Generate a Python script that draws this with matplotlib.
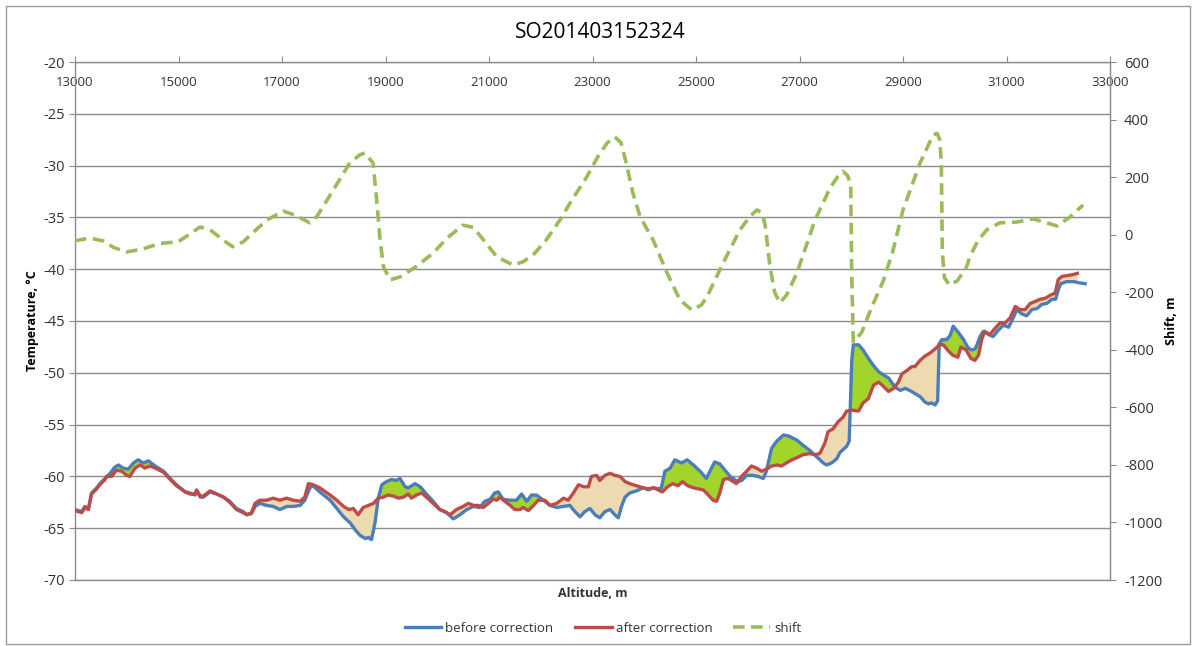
import numpy as np
import matplotlib
matplotlib.use("Agg")
import matplotlib.pyplot as plt
from matplotlib.patches import Rectangle

plt.rcParams['font.family'] = ['Open Sans', 'DejaVu Sans']
plt.rcParams['axes.unicode_minus'] = False

title = "SO201403152324"

# ---- before correction (blue) ----
alt_before = [13000, 13130, 13190, 13260, 13320, 13420, 13480, 13580, 13680, 13770, 13840, 13930,
              14030, 14130, 14220, 14320, 14420, 14550, 14710, 14840, 14960, 15130, 15220, 15320,
              15350, 15420, 15480, 15610, 15740, 15870, 15990, 16120, 16250, 16320, 16410, 16480,
              16570, 16700, 16830, 16960, 17090, 17220, 17350, 17440, 17540, 17600, 17730, 17930,
              18060, 18190, 18320, 18420, 18510, 18610, 18670, 18730, 18800, 18860, 18930, 19020,
              19120, 19200, 19280, 19380, 19440, 19570, 19670, 19790, 19920, 20050, 20180, 20310,
              20440, 20570, 20700, 20820, 20920, 21020, 21110, 21180, 21270, 21410, 21530, 21630,
              21730, 21820, 21920, 22050, 22180, 22310, 22440, 22560, 22660, 22760, 22850, 22950,
              23050, 23140, 23240, 23340, 23430, 23500, 23560, 23630, 23720, 23850, 23980, 24080,
              24180, 24270, 24330, 24400, 24500, 24590, 24720, 24830, 24950, 25080, 25200, 25270,
              25360, 25460, 25560, 25660, 25750, 25810, 25880, 25980, 26100, 26200, 26300, 26360,
              26460, 26560, 26690, 26790, 26950, 27070, 27200, 27330, 27460, 27520, 27620, 27720,
              27780, 27910, 27960, 28010, 28040, 28140, 28230, 28330, 28430, 28530, 28620, 28720,
              28820, 28880, 28950, 29040, 29130, 29230, 29330, 29420, 29490, 29550, 29620, 29670,
              29700, 29750, 29840, 29910, 29970, 30070, 30170, 30260, 30330, 30390, 30430, 30490,
              30550, 30650, 30740, 30840, 30940, 31040, 31130, 31200, 31290, 31390, 31490, 31590,
              31680, 31780, 31880, 31950, 32000, 32050, 32160, 32300, 32390, 32520]
temp_before = [-63.2, -63.4, -62.9, -63.1, -61.6, -61.1, -60.7, -60.2, -59.7, -59.1, -58.9, -59.2,
               -59.3, -58.7, -58.4, -58.7, -58.5, -59.0, -59.5, -60.2, -60.8, -61.5, -61.6, -61.8,
               -61.4, -62.0, -62.0, -61.5, -61.7, -62.0, -62.4, -63.1, -63.4, -63.7, -63.6, -62.9,
               -62.6, -62.8, -62.9, -63.2, -62.9, -62.9, -62.8, -62.3, -61.1, -60.9, -61.5, -62.3,
               -63.1, -63.9, -64.5, -65.2, -65.7, -66.0, -65.9, -66.1, -64.4, -62.1, -60.8, -60.5,
               -60.3, -60.4, -60.2, -61.0, -61.1, -60.7, -61.0, -61.7, -62.4, -63.2, -63.5, -64.1,
               -63.7, -63.2, -62.9, -63.0, -62.4, -62.2, -61.6, -61.5, -62.2, -62.3, -62.3, -61.7,
               -62.4, -61.8, -61.8, -62.3, -62.8, -63.0, -62.9, -62.8, -63.4, -63.9, -63.4, -63.1,
               -63.7, -64.0, -63.4, -63.2, -63.7, -64.0, -62.9, -62.0, -61.6, -61.4, -61.1, -61.3,
               -61.1, -61.2, -61.1, -59.5, -59.2, -58.4, -58.7, -58.4, -58.9, -59.5, -60.2, -59.5,
               -58.6, -58.8, -59.4, -60.0, -60.3, -60.5, -60.4, -59.9, -59.9, -60.0, -60.2, -59.5,
               -57.3, -56.6, -56.0, -56.1, -56.5, -57.0, -57.5, -58.1, -58.7, -58.9, -58.7, -58.3,
               -57.7, -57.1, -56.6, -48.8, -47.3, -47.3, -47.8, -48.6, -49.3, -49.9, -50.2, -50.5,
               -51.2, -51.5, -51.7, -51.5, -51.7, -52.0, -52.3, -52.8, -53.0, -52.9, -53.1, -52.7,
               -47.2, -46.8, -46.8, -46.4, -45.5, -46.1, -46.8, -47.6, -47.8, -47.7, -47.3, -46.5,
               -46.0, -46.3, -46.5, -45.9, -45.4, -45.6, -44.7, -43.9, -44.3, -44.5, -43.9, -43.8,
               -43.4, -43.3, -42.9, -42.9, -42.0, -41.4, -41.2, -41.2, -41.3, -41.4]

# ---- after correction (red) ----
alt_after = [13000, 13130, 13190, 13260, 13320, 13420, 13480, 13580, 13610, 13710, 13800, 13900,
             14000, 14060, 14160, 14260, 14350, 14450, 14550, 14710, 14840, 14960, 15130, 15220,
             15320, 15350, 15420, 15480, 15610, 15740, 15870, 15990, 16120, 16250, 16320, 16410,
             16480, 16570, 16700, 16830, 16960, 17090, 17220, 17350, 17440, 17510, 17600, 17730,
             17930, 18060, 18190, 18290, 18380, 18470, 18570, 18670, 18770, 18860, 18960, 19050,
             19150, 19250, 19350, 19440, 19500, 19600, 19700, 19790, 19920, 20050, 20150, 20250,
             20370, 20500, 20600, 20700, 20790, 20890, 20990, 21080, 21150, 21210, 21280, 21410,
             21500, 21600, 21660, 21760, 21860, 21950, 22080, 22180, 22310, 22440, 22530, 22630,
             22730, 22830, 22920, 22980, 23080, 23140, 23240, 23340, 23430, 23530, 23630, 23720,
             23850, 23980, 24080, 24180, 24270, 24350, 24450, 24550, 24650, 24740, 24840, 24950,
             25040, 25140, 25240, 25330, 25400, 25460, 25530, 25620, 25720, 25780, 25880, 25980,
             26070, 26170, 26270, 26360, 26460, 26560, 26650, 26750, 26850, 26950, 27070, 27200,
             27290, 27390, 27490, 27550, 27650, 27750, 27840, 27910, 28010, 28140, 28230, 28330,
             28430, 28530, 28620, 28720, 28820, 28910, 28980, 29070, 29170, 29230, 29330, 29420,
             29520, 29620, 29700, 29780, 29860, 29960, 30060, 30120, 30220, 30310, 30390, 30460,
             30520, 30580, 30680, 30780, 30870, 30970, 31070, 31170, 31260, 31360, 31460, 31560,
             31650, 31750, 31850, 31940, 32000, 32070, 32200, 32300, 32370]
temp_after = [-63.3, -63.5, -63.0, -63.2, -61.7, -61.2, -60.8, -60.3, -60.0, -60.0, -59.4, -59.5,
              -59.9, -60.0, -59.2, -58.9, -59.2, -59.0, -59.2, -59.6, -60.3, -60.9, -61.5, -61.7,
              -61.7, -61.3, -61.9, -61.9, -61.4, -61.7, -62.0, -62.5, -63.2, -63.5, -63.7, -63.5,
              -62.6, -62.3, -62.3, -62.1, -62.3, -62.1, -62.3, -62.4, -62.0, -60.7, -60.8, -61.1,
              -61.8, -62.3, -62.9, -63.2, -63.1, -63.7, -63.0, -62.8, -62.6, -62.1, -62.0, -61.8,
              -61.9, -62.1, -62.0, -61.7, -62.1, -61.8, -61.6, -62.0, -62.6, -63.2, -63.4, -63.7,
              -63.2, -62.9, -62.6, -62.8, -62.8, -63.0, -62.6, -62.2, -62.3, -62.0, -62.3, -62.8,
              -63.2, -63.2, -63.0, -63.3, -62.8, -62.3, -62.3, -62.8, -62.6, -62.1, -62.3, -61.6,
              -60.8, -61.0, -61.0, -60.0, -59.9, -60.4, -59.9, -59.7, -59.9, -60.0, -60.5, -60.7,
              -60.9, -61.1, -61.2, -61.1, -61.3, -61.5, -61.0, -60.7, -60.9, -60.5, -60.9, -61.1,
              -61.2, -61.3, -61.8, -62.3, -62.4, -61.6, -60.3, -60.2, -60.5, -60.7, -60.0, -59.5,
              -59.0, -59.2, -59.5, -59.3, -59.0, -58.9, -59.0, -58.7, -58.4, -58.2, -57.9, -57.8,
              -57.9, -57.8, -56.8, -55.7, -55.4, -54.7, -54.3, -53.7, -53.6, -53.7, -52.9, -52.5,
              -51.2, -50.9, -51.3, -51.8, -51.5, -50.9, -50.1, -49.8, -49.4, -49.4, -48.8, -48.4,
              -48.1, -47.7, -47.3, -47.3, -47.8, -48.3, -48.5, -47.5, -47.8, -48.6, -48.8, -48.3,
              -46.8, -46.0, -46.3, -45.7, -45.2, -45.2, -44.7, -43.6, -43.9, -43.9, -43.3, -43.1,
              -42.9, -42.8, -42.5, -42.3, -41.0, -40.7, -40.6, -40.5, -40.4]

# ---- shift (green dashed, right axis) ----
alt_shift = [13000, 13290, 13550, 13750, 14000, 14300, 14640, 15000, 15200, 15420, 15650, 15850,
             16050, 16250, 16450, 16710, 17020, 17250, 17540, 17670, 17990, 18310, 18500, 18600,
             18760, 18830, 18890, 18960, 19090, 19280, 19600, 19920, 20200, 20500, 20700, 20900,
             21150, 21460, 21650, 21850, 22100, 22370, 22600, 22890, 23100, 23280, 23430, 23550,
             23650, 23780, 23920, 24170, 24440, 24690, 24920, 25100, 25210, 25520, 25850, 26050,
             26180, 26280, 26340, 26430, 26520, 26620, 26750, 26950, 27300, 27590, 27750, 27840,
             27930, 27990, 28010, 28040, 28200, 28400, 28620, 28800, 29000, 29330, 29580, 29660,
             29710, 29740, 29760, 29800, 29900, 30050, 30230, 30290, 30450, 30620, 30870, 31200,
             31510, 31780, 31980, 32230, 32480]
shift_m = [-21, -12, -22, -45, -60, -50, -31, -24, 0, 27, 12, -18, -42, -25, 9, 51, 82, 68, 41, 62,
           155, 249, 277, 284, 249, 120, -8, -112, -157, -147, -110, -64, -10, 33, 25, -20, -77,
           -105, -95, -71, -20, 51, 120, 201, 270, 318, 340, 320, 250, 145, 62, -18, -133, -227,
           -262, -245, -217, -100, 17, 65, 86, 75, 30, -112, -200, -237, -210, -133, 51, 162,
           205, 220, 205, 175, -150, -373, -340, -250, -160, -60, 86, 249, 346, 352, 330, 250,
           -60, -150, -175, -160, -112, -77, -20, 17, 41, 44, 55, 41, 30, 62, 103]

x_ticks = list(range(13000, 33001, 2000))
t_ticks = list(range(-70, -19, 5))
s_ticks = list(range(-1200, 601, 200))

legend_labels = ["before correction", "after correction", "shift"]

BLUE = '#4A7EBB'
RED = '#BE4B48'
GREEN = '#9BBB59'
FILL_GREEN = '#A3D42C'
FILL_TAN = '#EEDAB0'
GRID = '#8C8C8C'
TXT = '#333333'

fig = plt.figure(figsize=(11.92, 6.46), dpi=100)
fig.patch.set_facecolor('white')
ax = fig.add_axes([75 / 1192, 1 - 580 / 646, (1110 - 75) / 1192, (580 - 62) / 646])

# fills between the two temperature profiles
xa = np.array(alt_before, float)
xb = np.array(alt_after, float)
xs = np.union1d(xa, xb)
xs = xs[(xs >= max(xa.min(), xb.min())) & (xs <= min(xa.max(), xb.max()))]
yb = np.interp(xs, xa, temp_before)
yr = np.interp(xs, xb, temp_after)
ax.fill_between(xs, yb, yr, where=yb >= yr, interpolate=True, color=FILL_GREEN, lw=0, zorder=2)
ax.fill_between(xs, yb, yr, where=yb < yr, interpolate=True, color=FILL_TAN, lw=0, zorder=2)

l1, = ax.plot(alt_before, temp_before, color=BLUE, lw=2.4, zorder=4, solid_joinstyle='round')
l2, = ax.plot(alt_after, temp_after, color=RED, lw=2.4, zorder=5, solid_joinstyle='round')

ax.set_xlim(13000, 33000)
ax.set_ylim(-70, -20)
ax.set_yticks(t_ticks)
ax.set_xticks(x_ticks)
ax.xaxis.tick_top()
ax.tick_params(axis='x', direction='out', length=4, color=GRID, labelsize=9.5, labelcolor=TXT)
ax.tick_params(axis='y', direction='out', length=4, color=GRID, labelsize=10.5, labelcolor=TXT, pad=3)
ax.grid(axis='y', color=GRID, lw=1.0)
ax.set_axisbelow(True)
for s in ['left', 'top', 'right', 'bottom']:
    ax.spines[s].set_color(GRID)
    ax.spines[s].set_linewidth(1.0)
# x tick labels sit just below the top axis line
for lab in ax.get_xticklabels():
    lab.set_verticalalignment('top')
ax.tick_params(axis='x', pad=-14)

ax.set_ylabel("Temperature, °C", fontsize=9, fontweight='bold', color='black', labelpad=3)
ax.text(0.5, -0.027, "Altitude, m", transform=ax.transAxes, ha='center', va='center',
        fontsize=9, fontweight='bold', color=TXT)

ax2 = ax.twinx()
l3, = ax2.plot(alt_shift, shift_m, color=GREEN, lw=2.6, ls=(0, (3.2, 1.8)), zorder=3)
ax2.set_ylim(-1200, 600)
ax2.set_yticks(s_ticks)
ax2.tick_params(axis='y', direction='out', length=4, color=GRID, labelsize=10.5, labelcolor=TXT, pad=6)
for s in ['left', 'top', 'right', 'bottom']:
    ax2.spines[s].set_visible(False)
ax2.spines['right'].set_visible(True)
ax2.spines['right'].set_color(GRID)
ax2.set_ylabel("Shift, m", fontsize=9, fontweight='bold', color='black', rotation=90, labelpad=2)

fig.text(600 / 1192, 1 - 32 / 646, title, ha='center', va='center', fontsize=15, color='black')

fig.legend([l1, l2, l3], legend_labels, loc='center', bbox_to_anchor=(603 / 1192, 1 - 628 / 646),
           ncol=3, frameon=False, fontsize=9.5, handlelength=2.8, columnspacing=1.6,
           handletextpad=0.3, labelcolor=TXT)

fig.add_artist(Rectangle((6 / 1192, 2 / 646), 1184 / 1192, 638 / 646, transform=fig.transFigure,
                         fill=False, edgecolor='#9a9a9a', lw=1.0))

fig.savefig('out.png', dpi=100)
